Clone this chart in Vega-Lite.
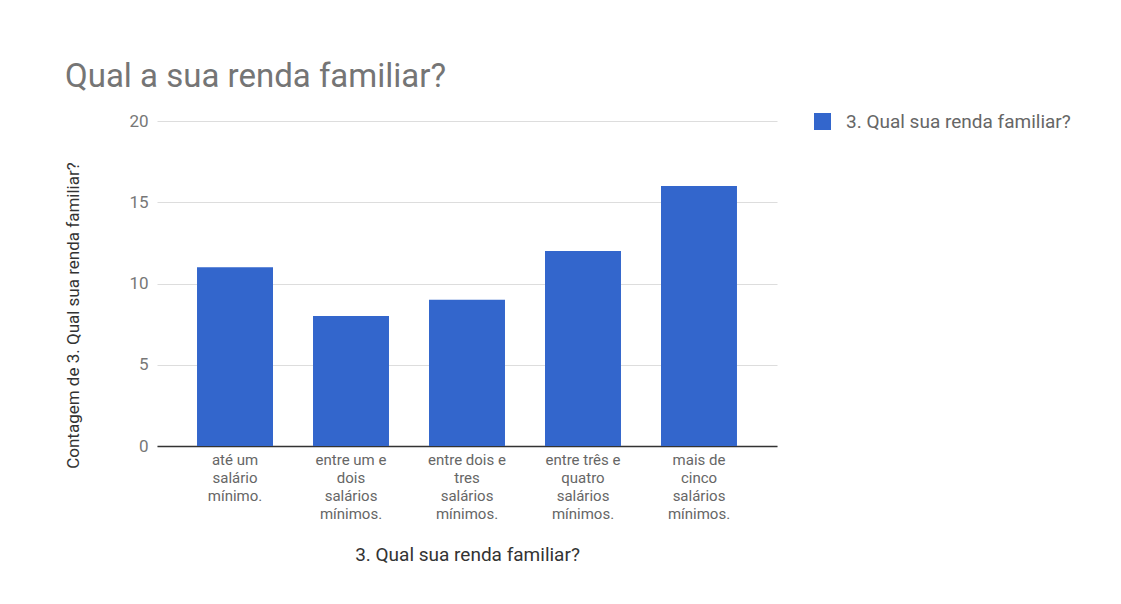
{
  "$schema": "https://vega.github.io/schema/vega-lite/v6.json",
  "autosize": "none",
  "width": 620,
  "height": 325,
  "padding": {"left": 157, "top": 121, "right": 344, "bottom": 158},
  "background": "white",
  "config": {
    "font": "Roboto",
    "view": {"stroke": null}
  },
  "title": {
    "text": "Qual a sua renda familiar?",
    "anchor": "start",
    "frame": "group",
    "dx": -92,
    "offset": 18,
    "fontSize": 33,
    "fontWeight": "normal",
    "color": "#757575",
    "font": "Roboto"
  },
  "data": {
    "values": [
      {"renda": "até um salário mínimo.", "contagem": 11, "serie": "3. Qual sua renda familiar?"},
      {"renda": "entre um e dois salários mínimos.", "contagem": 8, "serie": "3. Qual sua renda familiar?"},
      {"renda": "entre dois e tres salários mínimos.", "contagem": 9, "serie": "3. Qual sua renda familiar?"},
      {"renda": "entre três  e quatro salários mínimos.", "contagem": 12, "serie": "3. Qual sua renda familiar?"},
      {"renda": "mais de cinco salários mínimos.", "contagem": 16, "serie": "3. Qual sua renda familiar?"}
    ]
  },
  "mark": {"type": "bar"},
  "encoding": {
    "x": {
      "field": "renda",
      "type": "nominal",
      "sort": null,
      "scale": {"paddingInner": 0.345, "paddingOuter": 0.345},
      "axis": {
        "title": "3. Qual sua renda familiar?",
        "titleFont": "Roboto",
        "titleFontSize": 19,
        "titleFontWeight": "normal",
        "titleColor": "#333333",
        "titlePadding": 24,
        "labelAngle": 0,
        "labelFont": "Roboto",
        "labelFontSize": 15,
        "labelColor": "#666666",
        "labelLineHeight": 18,
        "labelPadding": 6,
        "labelBaseline": "top",
        "ticks": false,
        "domainColor": "#333333",
        "domainWidth": 1.5,
        "labelExpr": "datum.value == 'até um salário mínimo.' ? ['até um','salário','mínimo.'] : datum.value == 'entre um e dois salários mínimos.' ? ['entre um e','dois','salários','mínimos.'] : datum.value == 'entre dois e tres salários mínimos.' ? ['entre dois e','tres','salários','mínimos.'] : datum.value == 'entre três  e quatro salários mínimos.' ? ['entre três  e','quatro','salários','mínimos.'] : ['mais de','cinco','salários','mínimos.']"
      }
    },
    "y": {
      "field": "contagem",
      "type": "quantitative",
      "scale": {"domain": [0, 20], "nice": false},
      "axis": {
        "title": "Contagem de 3. Qual sua renda familiar?",
        "titleFont": "Roboto",
        "titleFontSize": 17,
        "titleFontWeight": "normal",
        "titleColor": "#333333",
        "titleX": -84,
        "titleY": 194,
        "titleAngle": -90,
        "titleBaseline": "middle",
        "titleAlign": "center",
        "values": [0, 5, 10, 15, 20],
        "labelFont": "Roboto",
        "labelFontSize": 17,
        "labelColor": "#777777",
        "labelPadding": 9,
        "ticks": false,
        "domain": false,
        "gridColor": "#dddddd",
        "gridWidth": 1
      }
    },
    "color": {
      "field": "serie",
      "type": "nominal",
      "scale": {"range": ["#3366cc"]},
      "legend": {
        "title": null,
        "orient": "none",
        "legendX": 656,
        "legendY": -9,
        "symbolType": "square",
        "symbolSize": 289,
        "symbolStrokeWidth": 0,
        "labelFont": "Roboto",
        "labelFontSize": 19,
        "labelColor": "#666666",
        "labelOffset": 14,
        "labelLimit": 400
      }
    }
  }
}
